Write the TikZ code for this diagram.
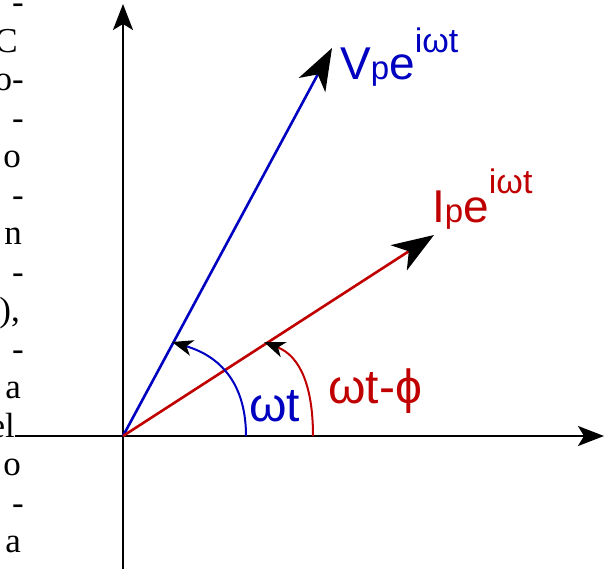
\documentclass[tikz,border=0pt]{standalone}
\usepackage{fontspec}
\setmainfont{Liberation Sans}
\newfontfamily\seriffont{Liberation Serif}
\usetikzlibrary{arrows.meta}
\definecolor{vblue}{RGB}{0,0,192}
\definecolor{ired}{RGB}{192,0,0}
\newcommand{\fsz}[1]{\fontsize{#1}{#1}\selectfont}
\begin{document}
\begin{tikzpicture}[x=1pt,y=-1pt,
  axis/.style={line width=2.2pt,-{Stealth[length=26pt,width=20pt,inset=6pt]}},
  vec/.style={line width=2.6pt,-{Stealth[length=42pt,width=30pt,inset=12pt,color=black]}},
  ang/.style={line width=2pt,-{Stealth[length=21pt,width=16pt,inset=6pt,color=black]}},
  frag/.style={font=\seriffont\fsz{35}, anchor=base east, inner sep=0pt},
  lab/.style={font=\fsz{46}, inner sep=0pt, anchor=base west}]
\useasboundingbox (0,0) rectangle (605,568);
% left text fragments (right column of the page, cut off)
\foreach \t/\xx/\yy [count=\k] in {-/24/13.5,C/18/52,o-/24/90.5,-/24/129,o/21/167.5,-/24/206,n/22/244.5,-/24/283,{),}/20/321.5,-/24/360,a/21/398.5,el/15/437,o/21/475.5,-/24/514,a/21/552.5}
  \node[frag] (f\k) at (\xx,\yy) {\t};
% axes
\coordinate (O) at (123,436);
\coordinate (xs) at (15,436);
\coordinate (xe) at (604,436);
\coordinate (ys) at (123,570);
\coordinate (ye) at (123,4);
\draw[axis] (xs) -- (xe);
\draw[axis] (ys) -- (ye);
% vectors
\coordinate (vt) at (332,48);
\coordinate (it) at (434,235);
\draw[vec, draw=vblue] (O) -- (vt);
\draw[vec, draw=ired] (O) -- (it);
% angle arcs
\coordinate (bs) at (246,436);
\coordinate (be) at (172,342);
\coordinate (rs) at (313,436);
\coordinate (re) at (264,342);
\draw[ang, draw=vblue] (bs) .. controls (246,390) and (226,358) .. (be);
\draw[ang, draw=ired] (rs) .. controls (313,386) and (300,356) .. (re);
% labels
\node[lab, text=vblue] (vl) at (340,79) {V{\fsz{33}p}e\raisebox{27pt}{\fsz{34}iωt}};
\node[lab, text=ired] (il) at (432,222) {I{\fsz{33}p}e\raisebox{29pt}{\fsz{34}iωt}};
\node[lab, text=vblue, font=\fsz{48}] (wt) at (249,421) {ωt};
\node[lab, text=ired, font=\fsz{48}] (wtp) at (328,403) {ωt-ϕ};
\end{tikzpicture}
\end{document}
